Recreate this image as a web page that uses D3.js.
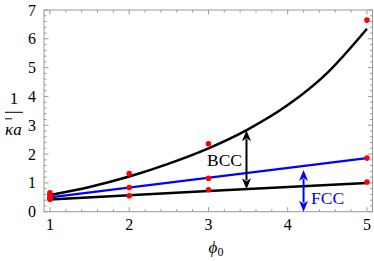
<!DOCTYPE html>
<html>
<head>
<meta charset="utf-8">
<script src="https://cdn.jsdelivr.net/npm/d3@7"></script>
<style>
  body { margin: 0; background: #fff; }
</style>
</head>
<body>
<div id="figure"></div>
<script>
const width = 374,
      height = 261;

// Data.
const phi = [1, 2, 3, 5];
const pointsBCC = [0.66, 1.32, 2.36, 6.65];
const pointsMid = [0.58, 0.84, 1.16, 1.86];
const pointsLow = [0.46, 0.55, 0.76, 1.03];
const extraAt1 = [0.5, 0.43];

const bccCurve = [[1, 0.58], [1.5, 0.86], [2, 1.22], [2.5, 1.67], [3, 2.2],
                  [3.5, 2.86], [4, 3.7], [4.5, 4.82], [5, 6.35]];
const blueLine = [[1, 0.5], [5, 1.86]];
const lowLine = [[1, 0.42], [2, 0.57], [3, 0.72], [4, 0.86], [5, 1.0]];

const bccArrow = {x: 3.48, y0: 0.78, y1: 2.83};
const fccArrow = {x: 4.2, y0: 0.0, y1: 1.45};

const serif = "'Liberation Serif', 'Times New Roman', 'DejaVu Serif', serif";

const svg = d3.select("#figure").append("svg")
    .attr("width", width)
    .attr("height", height)
    .attr("font-family", serif);

const xscale = d3.scaleLinear().domain([0.925, 5.07]).range([44, 372.5]);
const yscale = d3.scaleLinear().domain([0, 7]).range([211.7, 10]);

const frameColor = "#999";

// Frame with inward ticks on all four sides.
const x0 = xscale.range()[0], x1 = xscale.range()[1];
const y0 = yscale.range()[0], y1 = yscale.range()[1];

svg.append("rect")
    .attr("x", x0).attr("y", y1)
    .attr("width", x1 - x0).attr("height", y0 - y1)
    .attr("fill", "none")
    .attr("stroke", frameColor)
    .attr("stroke-width", 1);

const xMajor = d3.range(1, 6);
const xMinor = d3.range(1, 5.07, 0.2).filter(v => Math.abs(v - Math.round(v)) > 1e-6);
const yMajor = d3.range(0, 8);
const yMinor = d3.range(0, 7, 0.2).filter(v => Math.abs(v - Math.round(v)) > 1e-6);

const ticks = svg.append("g").attr("stroke", frameColor).attr("stroke-width", 1);
function tickX(v, len) {
    ticks.append("line").attr("x1", xscale(v)).attr("x2", xscale(v)).attr("y1", y0).attr("y2", y0 - len);
    ticks.append("line").attr("x1", xscale(v)).attr("x2", xscale(v)).attr("y1", y1).attr("y2", y1 + len);
}
function tickY(v, len) {
    ticks.append("line").attr("y1", yscale(v)).attr("y2", yscale(v)).attr("x1", x0).attr("x2", x0 + len);
    ticks.append("line").attr("y1", yscale(v)).attr("y2", yscale(v)).attr("x1", x1).attr("x2", x1 - len);
}
xMajor.forEach(v => tickX(v, 4.5));
xMinor.forEach(v => tickX(v, 2.5));
yMajor.forEach(v => tickY(v, 4.5));
yMinor.forEach(v => tickY(v, 2.5));

// Tick labels.
svg.append("g").selectAll("text")
    .data(xMajor)
    .join("text")
    .attr("x", d => xscale(d))
    .attr("y", y0 + 18)
    .attr("text-anchor", "middle")
    .attr("font-size", 16)
    .text(d => d);

svg.append("g").selectAll("text")
    .data(yMajor)
    .join("text")
    .attr("x", 36)
    .attr("y", d => yscale(d) + 5.5)
    .attr("text-anchor", "end")
    .attr("font-size", 16)
    .text(d => d);

// Curves.
const line = d3.line().x(d => xscale(d[0])).y(d => yscale(d[1]));
const smooth = d3.line().x(d => xscale(d[0])).y(d => yscale(d[1])).curve(d3.curveMonotoneX);

svg.append("path").datum(lowLine).attr("d", line)
    .attr("fill", "none").attr("stroke", "#000").attr("stroke-width", 2.5);
svg.append("path").datum(blueLine).attr("d", line)
    .attr("fill", "none").attr("stroke", "#0000ff").attr("stroke-width", 2.2);
svg.append("path").datum(bccCurve).attr("d", smooth)
    .attr("fill", "none").attr("stroke", "#000").attr("stroke-width", 2.5);

// Red data points.
const pts = [];
phi.forEach((p, i) => {
    pts.push([p, pointsBCC[i]], [p, pointsMid[i]], [p, pointsLow[i]]);
});
extraAt1.forEach(v => pts.push([1, v]));

svg.append("g").selectAll("circle")
    .data(pts)
    .join("circle")
    .attr("cx", d => xscale(d[0]))
    .attr("cy", d => yscale(d[1]))
    .attr("r", 2.8)
    .attr("fill", "#ff0000");

// Double-headed arrows.
function doubleArrow(a, color) {
    const x = xscale(a.x), ya = yscale(a.y0), yb = yscale(a.y1);
    const hw = 4.5, hl = 11;
    const g = svg.append("g");
    g.append("line").attr("x1", x).attr("x2", x).attr("y1", ya - hl + 2).attr("y2", yb + hl - 2)
        .attr("stroke", color).attr("stroke-width", 2);
    g.append("path")
        .attr("d", `M${x},${yb} L${x - hw},${yb + hl} L${x},${yb + hl - 3} L${x + hw},${yb + hl} Z`)
        .attr("fill", color);
    g.append("path")
        .attr("d", `M${x},${ya} L${x - hw},${ya - hl} L${x},${ya - hl + 3} L${x + hw},${ya - hl} Z`)
        .attr("fill", color);
}
doubleArrow(bccArrow, "#000");
doubleArrow(fccArrow, "#0000ff");

// Region labels.
svg.append("text")
    .attr("x", 207).attr("y", yscale(1.8) + 6)
    .attr("font-size", 17.5)
    .text("BCC");

svg.append("text")
    .attr("x", 311).attr("y", yscale(0.47) + 6)
    .attr("font-size", 17.5)
    .attr("fill", "#0000ff")
    .text("FCC");

// Axis labels.
svg.append("text")
    .attr("x", 216).attr("y", 253)
    .attr("text-anchor", "middle")
    .attr("font-size", 17)
    .call(t => t.append("tspan").attr("font-style", "italic").text("\u03d5"))
    .call(t => t.append("tspan").attr("font-size", 12).attr("dy", 3).text("0"));

const yl = svg.append("g").attr("transform", "translate(14,112.3)");
yl.append("text").attr("x", 0).attr("y", -8).attr("text-anchor", "middle")
    .attr("font-size", 17).text("1");
yl.append("line").attr("x1", -9).attr("x2", 9).attr("y1", 0).attr("y2", 0)
    .attr("stroke", "#000").attr("stroke-width", 1);
yl.append("text").attr("x", -9).attr("y", 22.5)
    .attr("font-size", 17).attr("font-style", "italic")
    .text("\u03baa");
yl.append("line").attr("x1", -9).attr("x2", -2).attr("y1", 6.5).attr("y2", 6.5)
    .attr("stroke", "#000").attr("stroke-width", 1);
</script>
</body>
</html>
